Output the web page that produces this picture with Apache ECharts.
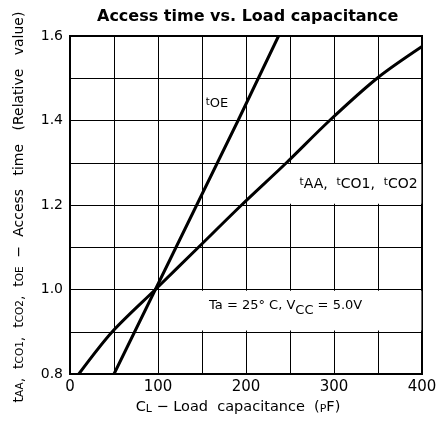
<!DOCTYPE html>
<html>
<head>
<meta charset="utf-8">
<script src="https://cdn.jsdelivr.net/npm/echarts@6/dist/echarts.min.js"></script>
<style>
html,body{margin:0;padding:0;background:#fff;}
#c{width:440px;height:428px;}
</style>
</head>
<body>
<div id="c"></div>
<script>
// ---- data ----
const tOE_x = [50, 97, 144, 191, 237];
const tOE_y = [0.8, 1.0, 1.2, 1.4, 1.6];
const tAA_x = [10, 48, 97, 146, 195, 246, 295, 349, 400];
const tAA_y = [0.8, 0.9, 1.0, 1.1, 1.2, 1.3, 1.4, 1.5, 1.575];
const xTicks = [0, 100, 200, 300, 400];
const yTicks = ['0.8', '1.0', '1.2', '1.4', '1.6'];
// label anchor positions (data space)
const labelOE = [167, 1.44];
const labelAA = [395, 1.25];
const labelTa = [245, 0.955];
const boxAA = [[228, 1.2], [400, 1.3]];
const boxTa = [[118, 0.9], [400, 1.0]];

const FONT = '"DejaVu Sans", sans-serif';
const pair = (xs, ys) => xs.map((x, i) => [x, ys[i]]);

const chart = echarts.init(document.getElementById('c'));
chart.setOption({
  animation: false,
  backgroundColor: '#fff',
  title: {
    text: 'Access time vs. Load capacitance',
    left: 92, top: 4,
    textStyle: {fontFamily: FONT, fontWeight: 'bold', fontSize: 16, color: '#000'}
  },
  grid: {left: 70, right: 18, top: 36, bottom: 54, show: true, borderColor: '#000', borderWidth: 2, backgroundColor: 'transparent'},
  xAxis: {
    type: 'value', min: 0, max: 400, interval: 50,
    axisLine: {show: false}, axisTick: {show: false},
    splitLine: {show: true, lineStyle: {color: '#000', width: 1}},
    axisLabel: {
      margin: 6, color: '#000', fontFamily: FONT, fontSize: 15,
      formatter: v => xTicks.indexOf(Math.round(v)) >= 0 ? String(Math.round(v)) : ''
    }
  },
  yAxis: {
    type: 'value', min: 0.8, max: 1.6, interval: 0.1,
    axisLine: {show: false}, axisTick: {show: false},
    splitLine: {show: true, lineStyle: {color: '#000', width: 1}},
    axisLabel: {
      margin: 7, color: '#000', fontFamily: FONT, fontSize: 14,
      formatter: v => { const s = (Math.round(v * 10) / 10).toFixed(1); return yTicks.indexOf(s) >= 0 ? s : ''; }
    }
  },
  graphic: [
    {
      type: 'text', x: 18, y: 207, rotation: Math.PI / 2,
      style: {
        text: '{n|t}{s|AA}{n|,  t}{s|CO1}{n|,  t}{s|CO2}{n|,  t}{s|OE}{n|  −  Access   time   (Relative   value)}',
        align: 'center', verticalAlign: 'middle', fill: '#000',
        rich: {
          n: {fontFamily: FONT, fontSize: 14, fill: '#000', verticalAlign: 'bottom', lineHeight: 16},
          s: {fontFamily: FONT, fontSize: 10.5, fill: '#000', verticalAlign: 'bottom', lineHeight: 16}
        }
      }
    },
    {
      type: 'text', x: 238, y: 406,
      style: {
        text: '{n|C}{s|L}{n| − Load  capacitance  (}{s|P}{n|F)}',
        align: 'center', verticalAlign: 'middle', fill: '#000',
        rich: {
          n: {fontFamily: FONT, fontSize: 14.5, fill: '#000', verticalAlign: 'bottom', lineHeight: 18},
          s: {fontFamily: FONT, fontSize: 11, fill: '#000', verticalAlign: 'bottom', lineHeight: 18}
        }
      }
    }
  ],
  series: [
    {
      type: 'line', data: [], z: 1, silent: true,
      markArea: {
        silent: true,
        itemStyle: {color: '#fff', borderWidth: 0},
        data: [
          [{coord: [boxAA[0][0], boxAA[0][1] + 0.003]}, {coord: [boxAA[1][0] - 0.7, boxAA[1][1] - 0.003]}],
          [{coord: [boxTa[0][0], boxTa[0][1] + 0.003]}, {coord: [boxTa[1][0] - 0.7, boxTa[1][1] - 0.003]}]
        ]
      },
      markPoint: {
        silent: true, symbol: 'circle', symbolSize: 0,
        data: [
          {coord: labelOE, label: {show: true, position: 'inside', formatter: '{t|t}{n|OE}',
            rich: {t: {fontFamily: FONT, fontSize: 10, verticalAlign: 'top', color: '#000'}, n: {fontFamily: FONT, fontSize: 13, color: '#000'}}}},
          {coord: labelAA, label: {show: true, position: 'left', distance: 0, formatter: '{t|t}{n|AA,  }{t|t}{n|CO1,  }{t|t}{n|CO2}',
            rich: {t: {fontFamily: FONT, fontSize: 10.5, verticalAlign: 'top', color: '#000'}, n: {fontFamily: FONT, fontSize: 14, color: '#000'}}}},
          {coord: labelTa, label: {show: true, position: 'inside', formatter: '{n|Ta = 25° C, V}{s|CC}{n| = 5.0V}',
            rich: {n: {fontFamily: FONT, fontSize: 13, color: '#000', verticalAlign: 'top', lineHeight: 18}, s: {fontFamily: FONT, fontSize: 13, color: '#000', verticalAlign: 'bottom', lineHeight: 18}}}}
        ]
      }
    },
    {
      name: 'tOE', type: 'line', z: 3, data: pair(tOE_x, tOE_y), showSymbol: false,
      lineStyle: {color: '#000', width: 3}
    },
    {
      name: 'tAA', type: 'line', z: 3, data: pair(tAA_x, tAA_y), showSymbol: false, smooth: 0.3,
      lineStyle: {color: '#000', width: 3}
    }
  ]
});
</script>
</body>
</html>
